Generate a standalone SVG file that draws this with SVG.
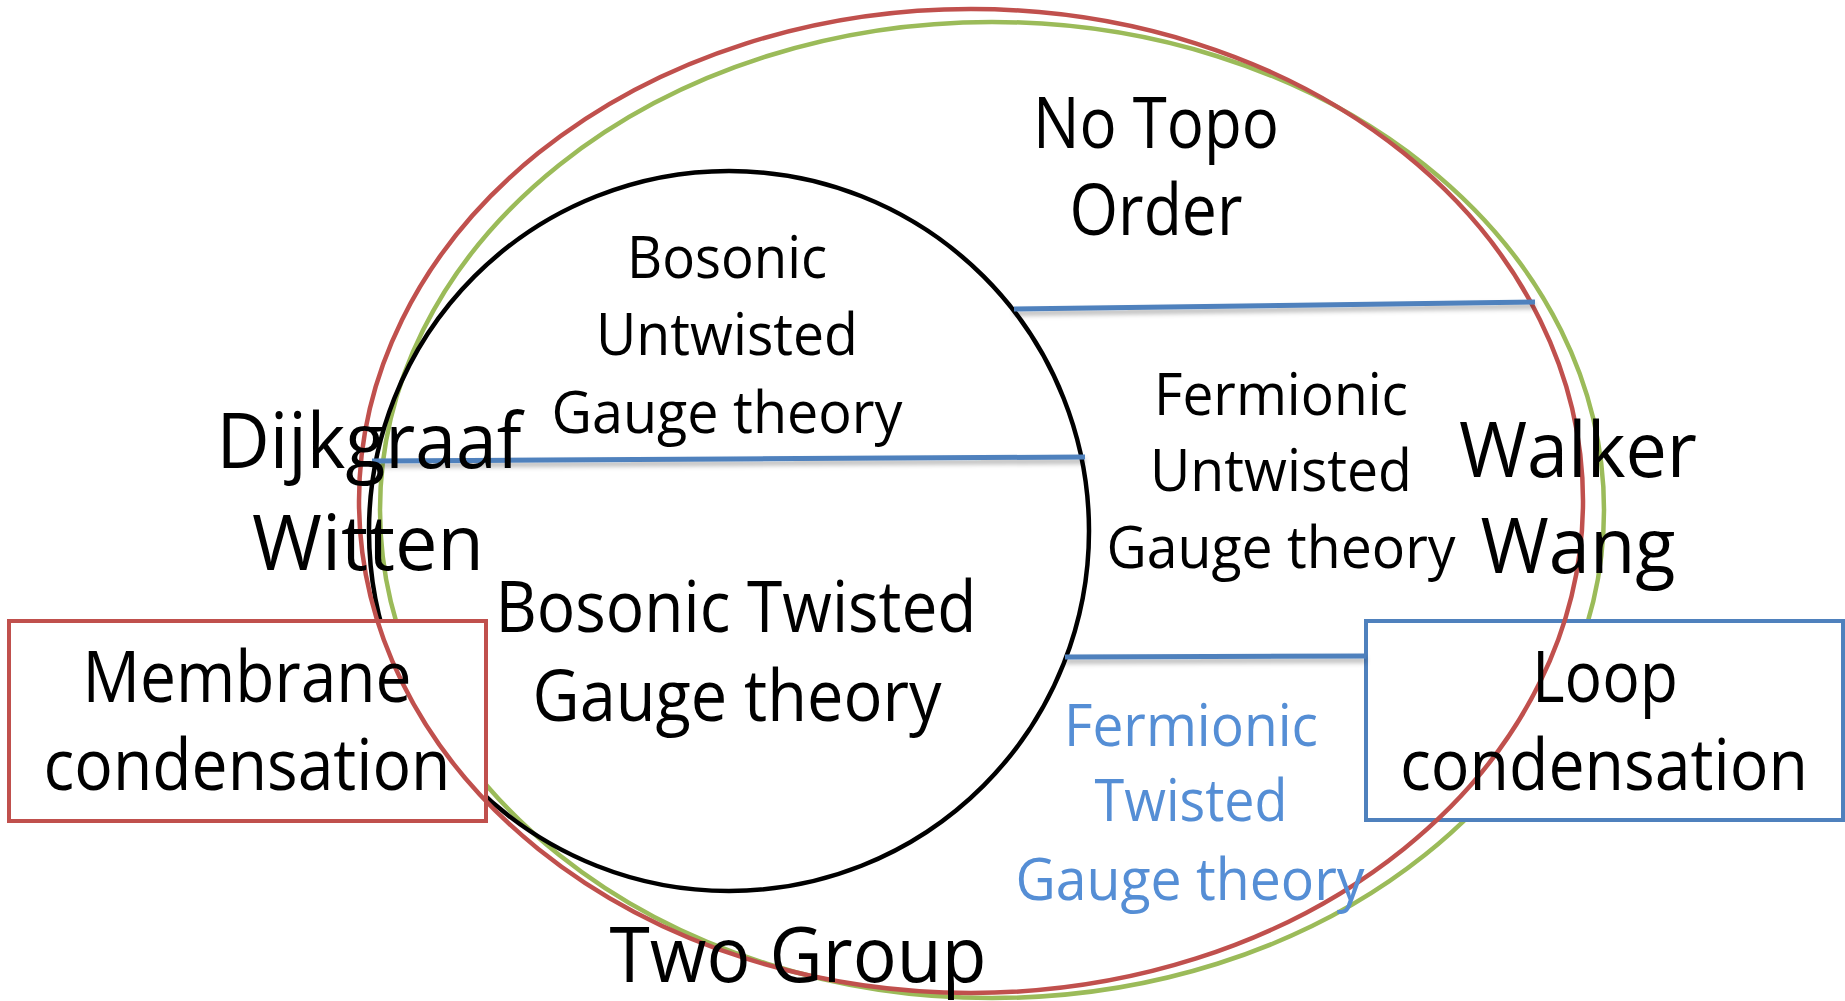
<svg xmlns="http://www.w3.org/2000/svg" width="1845" height="1001" viewBox="0 0 1845 1001">
<defs>
<filter id="sh" x="-5%" y="-200%" width="110%" height="500%">
<feDropShadow dx="0" dy="4" stdDeviation="2.5" flood-color="#000" flood-opacity="0.3"/>
</filter>
</defs>
<style>
text{font-family:"Open Sans","Noto Sans",sans-serif;text-anchor:middle;fill:#000}
.s{font-size:58px}
.m{font-size:71px}
.l{font-size:76px}
.bl{fill:#558ED5}
.ell{fill:none;stroke-width:4.5}
.ln{stroke:#4F81BD;stroke-width:5;fill:none}
</style>
<rect width="1845" height="1001" fill="#fff"/>
<g id="two-group">
<ellipse class="ell" cx="992" cy="510" rx="612" ry="488" stroke="#9BBB59"/>
</g>
<g id="gauge-theory">
<circle cx="729" cy="531" r="360" fill="none" stroke="#000" stroke-width="4.5"/>
</g>
<g id="membrane-condensation">
<rect x="9" y="621" width="477" height="200" fill="#fff" stroke="#C0504D" stroke-width="4"/>
</g>
<g id="loop-condensation">
<rect x="1366" y="621" width="477" height="199" fill="#fff" stroke="#4F81BD" stroke-width="4"/>
</g>
<g id="walker-wang-outer">
<ellipse class="ell" cx="971" cy="501" rx="612" ry="492" stroke="#C0504D"/>
</g>
<g id="connectors" filter="url(#sh)">
<line class="ln" x1="1014" y1="309" x2="1535" y2="302"/>
<line class="ln" x1="372" y1="461" x2="1085" y2="457"/>
<line class="ln" x1="1065" y1="657" x2="1366" y2="656"/>
</g>
<g id="labels">
<g id="no-topo">
<text class="m" x="1156" y="148" textLength="246" lengthAdjust="spacingAndGlyphs">No Topo</text>
<text class="m" x="1156" y="235" textLength="173" lengthAdjust="spacingAndGlyphs">Order</text>
</g>
<g id="bosonic-untwisted">
<text class="s" x="727" y="278" textLength="200" lengthAdjust="spacingAndGlyphs">Bosonic</text>
<text class="s" x="727" y="355" textLength="262" lengthAdjust="spacingAndGlyphs">Untwisted</text>
<text class="s" x="727" y="433" textLength="351" lengthAdjust="spacingAndGlyphs">Gauge theory</text>
</g>
<g id="dijkgraaf-witten">
<text class="l" x="369" y="468" textLength="305" lengthAdjust="spacingAndGlyphs">Dijkgraaf</text>
<text class="l" x="368" y="570" textLength="232" lengthAdjust="spacingAndGlyphs">Witten</text>
</g>
<g id="walker-wang">
<text class="l" x="1578" y="477" textLength="238" lengthAdjust="spacingAndGlyphs">Walker</text>
<text class="l" x="1578" y="573" textLength="195" lengthAdjust="spacingAndGlyphs">Wang</text>
</g>
<g id="fermionic-untwisted">
<text class="s" x="1281" y="415" textLength="254" lengthAdjust="spacingAndGlyphs">Fermionic</text>
<text class="s" x="1281" y="491" textLength="262" lengthAdjust="spacingAndGlyphs">Untwisted</text>
<text class="s" x="1281" y="568" textLength="349" lengthAdjust="spacingAndGlyphs">Gauge theory</text>
</g>
<g id="bosonic-twisted">
<text class="m" x="736" y="632" textLength="481" lengthAdjust="spacingAndGlyphs">Bosonic Twisted</text>
<text class="m" x="737" y="721" textLength="409" lengthAdjust="spacingAndGlyphs">Gauge theory</text>
</g>
<g id="membrane-text">
<text class="m" x="247" y="702" textLength="329" lengthAdjust="spacingAndGlyphs">Membrane</text>
<text class="m" x="247" y="790" textLength="407" lengthAdjust="spacingAndGlyphs">condensation</text>
</g>
<g id="loop-text">
<text class="m" x="1605" y="702" textLength="146" lengthAdjust="spacingAndGlyphs">Loop</text>
<text class="m" x="1604" y="790" textLength="408" lengthAdjust="spacingAndGlyphs">condensation</text>
</g>
<g id="fermionic-twisted">
<text class="s bl" x="1191" y="746" textLength="254" lengthAdjust="spacingAndGlyphs">Fermionic</text>
<text class="s bl" x="1191" y="821" textLength="193" lengthAdjust="spacingAndGlyphs">Twisted</text>
<text class="s bl" x="1190" y="900" textLength="349" lengthAdjust="spacingAndGlyphs">Gauge theory</text>
</g>
<g id="two-group-text">
<text class="l" x="798" y="982" textLength="377" lengthAdjust="spacingAndGlyphs">Two Group</text>
</g>
</g>
</svg>
